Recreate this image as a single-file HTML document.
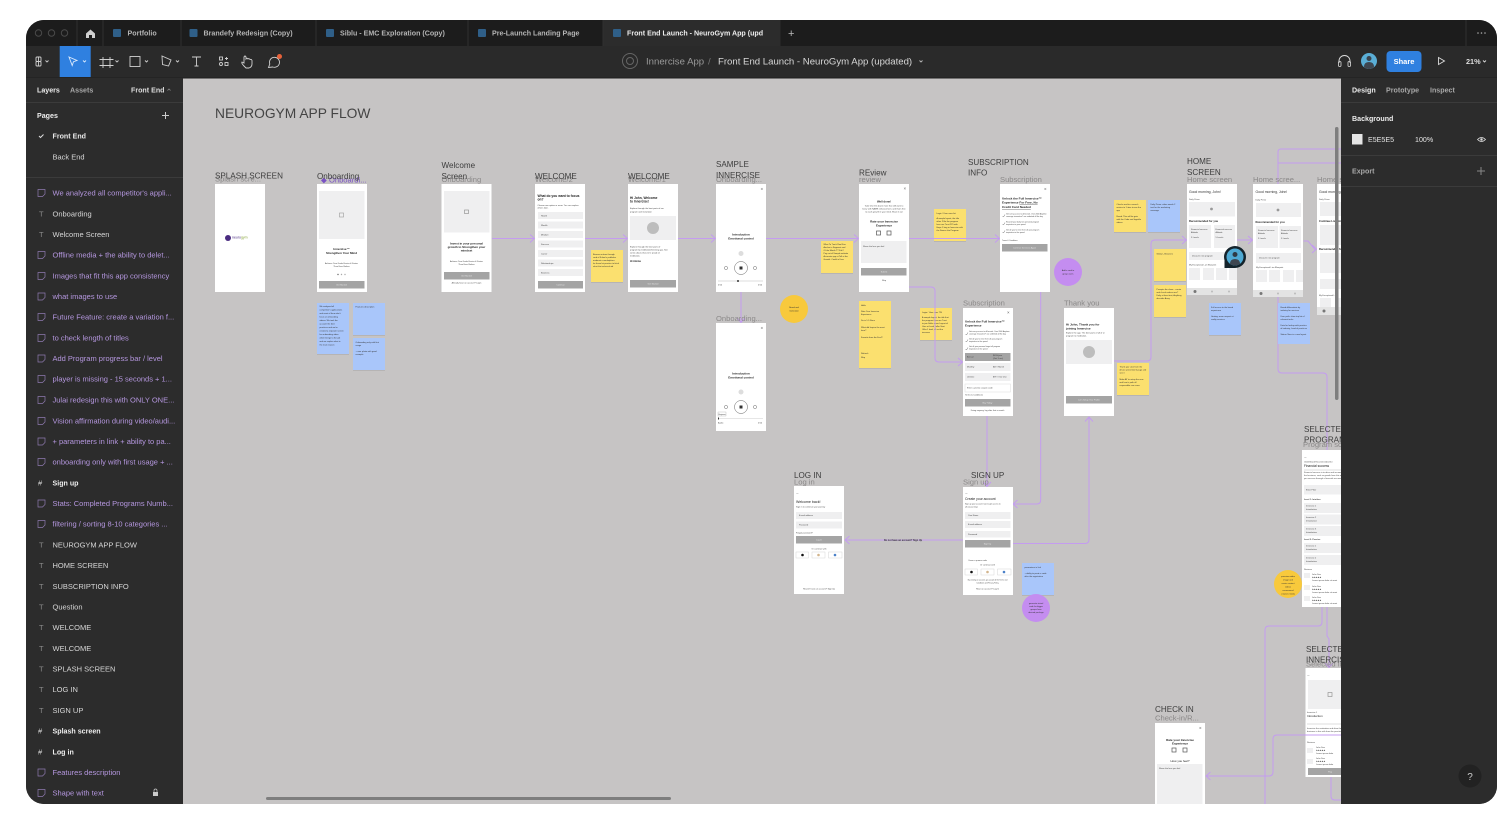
<!DOCTYPE html>
<html lang="en">
<head>
<meta charset="utf-8">
<title>NeuroGym App Flow</title>
<style>
html,body{margin:0;padding:0;width:1512px;height:834px;overflow:hidden;background:#fff}
svg{display:block;font-family:"Liberation Sans",sans-serif;filter:blur(.35px)}
.l{font-size:7.5px;fill:#d6d6d6}
.p{font-size:7.5px;fill:#b597df}
.b{font-size:7.1px;fill:#eee;font-weight:700}
.ic{font-size:7.5px;fill:#8a8a8a}
.ip{fill:none;stroke:#8f7ab0;stroke-width:.7}
.tab{font-size:7.1px;fill:#b5b5b5;font-weight:700}
.h{font-size:8.1px;fill:#3d3d3d}
.f{font-size:7.6px;fill:#8b8989}
.w{fill:#fff}
.g{fill:#efeff0}
.d{fill:#a4a4a4}
.t{font-size:2.1px;fill:#444}
.m{font-size:3px;fill:#222;font-weight:700}
.c{text-anchor:middle}
.cn{fill:none;stroke:#c49cf0;stroke-width:1}
.y{fill:#fbe06f}
.u{fill:#a9c6fa}
.st{font-size:2.1px;fill:#333}
.sh{fill:#000;opacity:.08}
.ln{stroke:#777;stroke-width:.5;fill:none}
</style>
</head>
<body>
<svg width="1512" height="834" viewBox="0 0 1512 834" xmlns="http://www.w3.org/2000/svg">
<defs>
<clipPath id="win"><rect x="26" y="20" width="1471" height="784" rx="18"/></clipPath>
<clipPath id="cv"><rect x="183" y="78" width="1158" height="726"/></clipPath>
</defs>
<g clip-path="url(#win)">
<rect x="26" y="20" width="1471" height="784" fill="#2a2a2a"/>
<rect x="26" y="20" width="1471" height="26" fill="#1c1c1c"/>
<!-- canvas -->
<rect x="183" y="78" width="1158" height="726" fill="#c6c4c4"/>

<g clip-path="url(#cv)">
<text x="215" y="118" font-size="13.8" fill="#444">NEUROGYM APP FLOW</text>

<!-- sticky shadows + notes -->
<g>
<rect class="sh" x="317" y="304" width="32" height="51"/><rect class="u" x="317" y="303" width="32" height="51"/>
<rect class="sh" x="353" y="304" width="32" height="32"/><rect class="u" x="353" y="303" width="32" height="32"/>
<rect class="sh" x="353" y="339" width="32" height="32"/><rect class="u" x="353" y="338" width="32" height="32"/>
<text class="st"><tspan x="319.5" y="307">We analyzed all</tspan><tspan x="319.5" y="310.5">competitor's applications</tspan><tspan x="319.5" y="314">and most of them don't</tspan><tspan x="319.5" y="317.5">have an onboarding</tspan><tspan x="319.5" y="321">videos. We took the</tspan><tspan x="319.5" y="324.5">account the best</tspan><tspan x="319.5" y="328">practices and we've</tspan><tspan x="319.5" y="331.5">created a separate screen</tspan><tspan x="319.5" y="335">for onboarding video</tspan><tspan x="319.5" y="338.5">which brings to the job</tspan><tspan x="319.5" y="342">and we explain what is</tspan><tspan x="319.5" y="345.5">the main reason</tspan></text>
<text class="st" x="355.5" y="307.5">Features description</text>
<text class="st"><tspan x="355.5" y="343">Onboarding only with first</tspan><tspan x="355.5" y="346">usage</tspan><tspan x="355.5" y="352">+ user photo with good</tspan><tspan x="355.5" y="355">example</tspan></text>
<rect class="sh" x="591" y="251" width="32" height="32"/><rect class="y" x="591" y="250" width="32" height="32"/>
<text class="st"><tspan x="593" y="255">Browse entices through</tspan><tspan x="593" y="258">card of Fulani's publisher</tspan><tspan x="593" y="261">madenst a marketplace</tspan><tspan x="593" y="264">for these lot practice to fetch</tspan><tspan x="593" y="267">short the technical aid</tspan></text>
<rect class="sh" x="821" y="242" width="32" height="32"/><rect class="y" x="821" y="241" width="32" height="32"/>
<text class="st"><tspan x="823.5" y="245">What To Track Real Fee</tspan><tspan x="823.5" y="248">Anchor in Segment and</tspan><tspan x="823.5" y="251">Of the Month TT File?</tspan><tspan x="823.5" y="254">Pay out of Sample website</tspan><tspan x="823.5" y="257">Accounts app at Tell at the</tspan><tspan x="823.5" y="260">Growth. Could in User</tspan></text>
<rect class="sh" x="934" y="210" width="32" height="32"/><rect class="y" x="934" y="209" width="32" height="32"/>
<text class="st"><tspan x="936.5" y="214">Login / User uses list</tspan><tspan x="936.5" y="219">A sample layout, the title</tspan><tspan x="936.5" y="222">other 2 file the program</tspan><tspan x="936.5" y="225">here are Trust 225 with</tspan><tspan x="936.5" y="228">Hope 1 bag or Innercise with</tspan><tspan x="936.5" y="231">the Source the Program</tspan></text>
<rect class="sh" x="859" y="302" width="32" height="67"/><rect class="y" x="859" y="301" width="32" height="67"/>
<text class="st"><tspan x="861" y="306">Hello</tspan><tspan x="861" y="312">Rate Your Innercise</tspan><tspan x="861" y="315">Experience</tspan><tspan x="861" y="321">Do in 1-5 Stars</tspan><tspan x="861" y="328">What did Inspire the most</tspan><tspan x="861" y="331">here?</tspan><tspan x="861" y="338">Favorite from the Feel?</tspan><tspan x="861" y="354">Refresh</tspan><tspan x="861" y="358">Skip</tspan></text>
<rect class="sh" x="920" y="309" width="32" height="32"/><rect class="y" x="920" y="308" width="32" height="32"/>
<text class="st"><tspan x="922" y="313">Login / User uses TIS</tspan><tspan x="922" y="318">A sample layout, the title that</tspan><tspan x="922" y="321">the program here are Trust</tspan><tspan x="922" y="324">to join Seller more Layout of</tspan><tspan x="922" y="327">User at Lead Seller Seat</tspan><tspan x="922" y="330">Offer 1 lead, all out the</tspan><tspan x="922" y="333">increase</tspan></text>
<rect class="sh" x="1117" y="364" width="32" height="32"/><rect class="y" x="1117" y="363" width="32" height="32"/>
<text class="st"><tspan x="1119.5" y="367.5">Thank you view from the</tspan><tspan x="1119.5" y="370.5">device presented it page and</tspan><tspan x="1119.5" y="373.5">see it</tspan><tspan x="1119.5" y="380">Make AT to setup the new</tspan><tspan x="1119.5" y="383">and here's path all</tspan><tspan x="1119.5" y="386">responsible can users</tspan></text>
<rect class="sh" x="1114" y="201" width="32" height="32"/><rect class="y" x="1114" y="200" width="32" height="32"/>
<text class="st"><tspan x="1116.5" y="205">Checks and to a search</tspan><tspan x="1116.5" y="208">entries to 1 item to see the</tspan><tspan x="1116.5" y="211">app</tspan><tspan x="1116.5" y="217">Brand. This will be gain</tspan><tspan x="1116.5" y="220">with the Code and logotitle</tspan><tspan x="1116.5" y="223">videos</tspan></text>
<rect class="sh" x="1148" y="201" width="32" height="32"/><rect class="u" x="1148" y="200" width="32" height="32"/>
<text class="st"><tspan x="1150.5" y="205">Daily Prime: video needs 2</tspan><tspan x="1150.5" y="208">text for the marketing</tspan><tspan x="1150.5" y="211">message</tspan></text>
<rect class="sh" x="1154" y="250" width="32" height="32"/><rect class="y" x="1154" y="249" width="32" height="32"/>
<text class="st" x="1156.5" y="254.5">Global - Browsers</text>
<rect class="sh" x="1154" y="286" width="32" height="32"/><rect class="y" x="1154" y="285" width="32" height="32"/>
<text class="st"><tspan x="1156.5" y="290">Prompts the show... create</tspan><tspan x="1156.5" y="293">and check reduce one?</tspan><tspan x="1156.5" y="296">Daily at least test, Anything</tspan><tspan x="1156.5" y="299">describe Array</tspan></text>
<rect class="sh" x="1209" y="304" width="32" height="32"/><rect class="u" x="1209" y="303" width="32" height="32"/>
<text class="st"><tspan x="1211" y="308">Full access to the brand</tspan><tspan x="1211" y="311">experience</tspan><tspan x="1211" y="317">Grating: more respect at</tspan><tspan x="1211" y="320">reality services</tspan></text>
<rect class="sh" x="1022" y="564" width="32" height="32"/><rect class="u" x="1022" y="563" width="32" height="32"/>
<text class="st"><tspan x="1024.5" y="568">parameters in link</tspan><tspan x="1024.5" y="574">+ ability to paste a code</tspan><tspan x="1024.5" y="577">after the registration</tspan></text>
<circle cx="794" cy="309" r="14" fill="#f8c93c"/>
<text class="st c"><tspan x="794" y="308">Brand and</tspan><tspan x="794" y="311.5">motivation</tspan></text>
<circle cx="1068" cy="272" r="14" fill="#c48df0"/>
<text class="st c"><tspan x="1068" y="271">Add a card to</tspan><tspan x="1068" y="274.5">group users</tspan></text>
<circle cx="1036" cy="608" r="14" fill="#c48df0"/>
<text class="st c"><tspan x="1036" y="604">generate virtual</tspan><tspan x="1036" y="607">code for bigger</tspan><tspan x="1036" y="610">groups from</tspan><tspan x="1036" y="613">desired package</tspan></text>
<circle cx="1288" cy="584" r="14" fill="#f8c93c"/>
<text class="st c"><tspan x="1288" y="577">premium-video</tspan><tspan x="1288" y="580.5">image and</tspan><tspan x="1288" y="584">music content</tspan><tspan x="1288" y="587.5">videos</tspan><tspan x="1288" y="591">recommend</tspan><tspan x="1288" y="594.5">creators media</tspan></text>
</g>

<!-- connectors -->
<g class="cn">
<path d="M492 238.5H535M530 234.5l4.5 4-4.5 4"/>
<path d="M585 238.5H627.5M623 234.5l4.5 4-4.5 4"/>
<path d="M678 238.5H715.5M711 234.5l4.5 4-4.5 4"/>
<path d="M766 238.5H858.5M854 234.5l4.5 4-4.5 4"/>
<path d="M909 238.5H999.5M995 234.5l4.5 4-4.5 4"/>
<path d="M741 292V322.5M737 318l4 4.5 4-4.5"/>
<path d="M909 287H931q4 0 4 4V358q0 4 4 4H962.500M958 358l4.500 4-4.500 4"/>
<path d="M1040.700 292V500q0 4-4 4H1013M1017.500 500l-4.500 4 4.500 4"/>
<path d="M987 416V486.500M983 482l4 4.500 4-4.500"/>
<path d="M1013 543.500H1085q4 0 4-4V417M1085 421.500l4-4.500 4 4.500"/>
<path d="M963 540H845M849.500 536l-4.500 4 4.500 4"/>
<path d="M1114 361H1147q4 0 4-4V244q0-4 4-4H1186.500M1182 236l4.500 4-4.500 4"/>
<path d="M1237 240H1252.500M1248 236l4.500 4-4.500 4"/>
<path d="M1303.500 241H1308L1315 249.500H1316.500M1312 245l4.500 4-4.500 4"/>
<path d="M1341 149H1281q-3 0-3 3V184M1278 163H1341"/>
<path d="M1278 290V369q0 4 4 4H1323q4 0 4 4V450"/>
<path d="M1327 607V636l2 3V668M1325 663l4 4.500 4-4.500"/>
<path d="M1322 607V622q0 4-4 4H1269q-4 0-4 4V804"/>
<path d="M1341 735H1277q-4 0-4 4V772q0 4-4 4H1206M1210.500 772l-4.500 4 4.500 4"/>
<path d="M1331 777V796q0 4 4 4H1341"/>
</g>
<rect class="u" x="1278" y="303" width="32" height="41"/>
<text class="st"><tspan x="1280.500" y="308">Brand differentiate by</tspan><tspan x="1280.500" y="311">industry for services</tspan><tspan x="1280.500" y="317">User path: show top list of</tspan><tspan x="1280.500" y="320">relevant tasks</tspan><tspan x="1280.500" y="326">Data for lookup with practice</tspan><tspan x="1280.500" y="329">of industry, Lead of practices</tspan><tspan x="1280.500" y="335">Status: Now in a new layout</tspan></text>

<!-- labels -->
<g>
<text class="f" x="215" y="181.500">Splash scre...</text><text class="h" x="215" y="178.500">SPLASH SCREEN</text>
<text class="f" x="321" y="182.500" style="fill:#7a52c4">◆ Onboardi...</text><text class="h" x="317" y="179">Onboarding</text>
<text class="f" x="441.500" y="182">Onboarding</text><text class="h" x="441.500" y="168">Welcome</text><text class="h" x="441.500" y="179">Screen</text>
<text class="f" x="535" y="182">Welcome/2</text><text class="h" x="535" y="179">WELCOME</text>
<text class="f" x="628" y="182">Welcome/1</text><text class="h" x="628" y="179">WELCOME</text>
<text class="f" x="716" y="182">Onboarding...</text><text class="h" x="716" y="167">SAMPLE</text><text class="h" x="716" y="178">INNERCISE</text>
<text class="f" x="716" y="321">Onboarding...</text>
<text class="f" x="859" y="182">review</text><text class="h" x="859" y="175.500">REview</text>
<text class="f" x="1000" y="182">Subscription</text><text class="h" x="968" y="165">SUBSCRIPTION</text><text class="h" x="968" y="175.500">INFO</text>
<text class="f" x="963" y="305.500">Subscription</text>
<text class="f" x="1064" y="305.500">Thank you</text>
<text class="f" x="1187" y="182">Home screen</text><text class="h" x="1187" y="164">HOME</text><text class="h" x="1187" y="175">SCREEN</text>
<text class="f" x="1253" y="182">Home scree...</text>
<text class="f" x="1317" y="182">Home screen</text>
<text class="f" x="794" y="484.500">Log in</text><text class="h" x="794" y="478">LOG IN</text>
<text class="f" x="963" y="484.500">Sign up</text><text class="h" x="971" y="478">SIGN UP</text>
<text class="f" x="1303" y="447">Program sc...</text><text class="h" x="1304" y="432">SELECTED</text><text class="h" x="1304" y="442.500">PROGRAM</text>
<text class="f" x="1306" y="666.500">Selected In</text><text class="h" x="1306" y="652">SELECTED</text><text class="h" x="1306" y="662.500">INNERCISE</text>
<text class="f" x="1155" y="720.500">Check-in/R...</text><text class="h" x="1155" y="712">CHECK IN</text>
<text x="903" y="541" class="c" font-size="2.400" font-weight="700" fill="#333">Do not have an account? Sign Up</text>
</g>

<!-- splash -->
<rect class="w" x="215" y="184" width="50" height="108"/>
<circle cx="228" cy="238" r="3" fill="#4a2c80"/>
<text x="232" y="238.500" font-size="3.500" fill="#4a2c80">neuro<tspan fill="#8aa63d">gym</tspan></text>
<!-- onboarding -->
<rect class="w" x="317" y="184" width="50" height="108"/>
<rect class="g" x="319" y="191" width="45.500" height="48"/>
<rect x="339.500" y="213" width="4" height="4" fill="none" stroke="#999" stroke-width=".6"/>
<text class="m c"><tspan x="341.500" y="250">Innercise™</tspan><tspan x="341.500" y="254">Strengthen Your Mind</tspan></text>
<text class="t c"><tspan x="341.500" y="264">Achieve Your Goals Easier &amp; Faster</tspan><tspan x="341.500" y="267">Than Ever Before</tspan></text>
<circle cx="338" cy="274.500" r=".7" fill="#666"/><circle cx="341.500" cy="274.500" r=".7" fill="#aaa"/><circle cx="345" cy="274.500" r=".7" fill="#aaa"/>
<rect class="d" x="319" y="281" width="45.500" height="7.500"/>
<text class="t c" x="341.500" y="285.500" fill="#eee" style="fill:#e8e8e8">Get Started</text>
<!-- welcome -->
<rect class="w" x="441.500" y="184" width="50" height="108"/>
<rect class="g" x="444" y="191" width="45.500" height="41.500"/>
<rect x="464.500" y="210" width="4" height="3.500" fill="none" stroke="#888" stroke-width=".6"/>
<text class="m c"><tspan x="466.500" y="244.500">Invest in your personal</tspan><tspan x="466.500" y="248">growth to Strengthen your</tspan><tspan x="466.500" y="251.500">mindset</tspan></text>
<text class="t c"><tspan x="466.500" y="262">Achieve Your Goals Easier &amp; Faster</tspan><tspan x="466.500" y="265">Than Ever Before</tspan></text>
<rect class="d" x="444" y="272" width="45.500" height="7.500"/>
<text class="t c" x="466.500" y="276.500" style="fill:#e8e8e8">Get Started</text>
<text class="t c" x="466.500" y="283.500">Already have an account? Login</text>
<!-- welcome2 -->
<rect class="w" x="535" y="184" width="50" height="108"/>
<text class="m" style="font-size:3.300px"><tspan x="537.500" y="197">What do you want to focus</tspan><tspan x="537.500" y="200.500">on?</tspan></text>
<text class="t"><tspan x="537.500" y="206">Choose one option or more. You can explore</tspan><tspan x="537.500" y="208.500">others later.</tspan></text>
<g class="g"><rect x="538" y="212" width="45" height="7"/><rect x="538" y="221.500" width="45" height="7"/><rect x="538" y="231" width="45" height="7"/><rect x="538" y="240.500" width="45" height="7"/><rect x="538" y="250" width="45" height="7"/><rect x="538" y="259.500" width="45" height="7"/><rect x="538" y="269" width="45" height="7"/></g>
<g class="t"><text x="541" y="216.500">Health</text><text x="541" y="226">Wealth</text><text x="541" y="235.500">Mindset</text><text x="541" y="245">Success</text><text x="541" y="254.500">Career</text><text x="541" y="264">Relationships</text><text x="541" y="273.500">Business</text></g>
<rect class="d" x="538" y="281" width="45" height="7.500"/>
<text class="t c" x="560.500" y="285.500" style="fill:#e8e8e8">Continue</text>
<!-- welcome3 -->
<rect class="w" x="628" y="184" width="50" height="108"/>
<text class="m" style="font-size:3.200px"><tspan x="630" y="199">Hi John, Welcome</tspan><tspan x="630" y="202.500">to Innercise!</tspan></text>
<text class="t"><tspan x="630" y="209">Explore through the best parts of our</tspan><tspan x="630" y="212.500">program and motivation</tspan></text>
<rect class="g" x="630" y="216" width="46" height="24"/>
<circle cx="653" cy="228" r="6" fill="#bdbdbd"/>
<text class="t"><tspan x="630" y="247.500">Explore through the best parts of</tspan><tspan x="630" y="250.500">program by meditation/listening app. See</tspan><tspan x="630" y="253.500">some about what we're proud of.</tspan><tspan x="630" y="256.500">meditation.</tspan></text>
<text class="m" x="630" y="262" style="font-size:2.500px">Hi Amma</text>
<rect class="d" x="630" y="280" width="46" height="7.500"/>
<text class="t c" x="653" y="284.500" style="fill:#e8e8e8">Get Started</text>
<!-- sample -->
<rect class="w" x="716" y="184" width="50" height="108"/>
<text x="760.500" y="190.500" font-size="4.500" fill="#666">×</text>
<text class="m c"><tspan x="741" y="235.500">Introduction</tspan><tspan x="741" y="239.500">Emotional control</tspan></text>
<circle cx="741" cy="253.500" r="2.500" fill="#ddd"/>
<circle cx="741" cy="268" r="6.500" fill="#fff" stroke="#666" stroke-width=".5"/><rect x="739.500" y="266.500" width="3" height="3" fill="#333"/>
<circle cx="726" cy="268" r="1.600" fill="none" stroke="#666" stroke-width=".5"/><circle cx="755" cy="268" r="1.600" fill="none" stroke="#666" stroke-width=".5"/>
<path d="M718 281H763" stroke="#bbb" stroke-width=".5"/><circle cx="738" cy="281" r="1" fill="#333"/>
<text class="t" x="718" y="285.500">0:00</text><text class="t" x="758" y="285.500">0:00</text>
<!-- sample2 -->
<rect class="w" x="716" y="323" width="50" height="108"/>
<text x="760.500" y="329.500" font-size="4.500" fill="#666">×</text>
<text class="m c"><tspan x="741" y="374.500">Introduction</tspan><tspan x="741" y="378.500">Emotional control</tspan></text>
<circle cx="741" cy="392" r="2.500" fill="#ddd"/>
<circle cx="741" cy="407" r="6.500" fill="#fff" stroke="#666" stroke-width=".5"/><rect x="739.500" y="405.500" width="3" height="3" fill="#333"/>
<circle cx="726" cy="407" r="1.600" fill="none" stroke="#666" stroke-width=".5"/><circle cx="755" cy="407" r="1.600" fill="none" stroke="#666" stroke-width=".5"/>
<rect x="718" y="412" width="8" height="4" fill="#fff" stroke="#999" stroke-width=".3"/><text class="t" x="718.500" y="415" style="font-size:1.800px">Beginner</text>
<path d="M718 418.500H763" stroke="#ccc" stroke-width=".5"/><rect x="718" y="417.500" width="1" height="2" fill="#333"/>
<text class="t" x="718" y="423.500">Audio</text><text class="t" x="758" y="423.500">0:00</text>
<!-- review -->
<rect class="w" x="859" y="184" width="50" height="108"/>
<text x="903.500" y="190" font-size="4.500" fill="#666">×</text>
<text class="m c" x="884" y="202.500" style="font-size:2.800px">Well done!</text>
<text class="t c"><tspan x="884" y="206.500">Take time this down more that still want to</tspan><tspan x="884" y="209.500">know with NAME enhancement, and that's free</tspan><tspan x="884" y="212.500">to each growth in your mind. Share it out</tspan></text>
<text class="m c"><tspan x="884" y="222.500">Rate your Innercise</tspan><tspan x="884" y="226.500">Experience</tspan></text>
<rect x="876.500" y="231" width="4" height="4" fill="none" stroke="#555" stroke-width=".7"/><rect x="887" y="231" width="4" height="4" fill="none" stroke="#555" stroke-width=".7"/>
<rect class="g" x="861" y="241" width="45.500" height="22"/>
<text class="t" x="863" y="247">Share the love you feel</text>
<rect class="d" x="861" y="268" width="45.500" height="7.500"/>
<text class="t c" x="884" y="272.500" style="fill:#e8e8e8">Submit</text>
<text class="t c" x="884" y="281">Skip</text>
<!-- subscription -->
<rect class="w" x="1000" y="184" width="50" height="108"/>
<text x="1044" y="190.500" font-size="4.500" fill="#666">×</text>
<text class="m" style="font-size:3.100px"><tspan x="1002" y="199.500">Unlock the Full Innercise™</tspan><tspan x="1002" y="203.500">Experience <tspan text-decoration="underline">For Free, No</tspan></tspan><tspan x="1002" y="208" text-decoration="underline">Credit Card Needed</tspan></text>
<text class="t" style="font-size:1.800px"><tspan x="1006" y="214.500">Get every access to all brands. Over 2000 Anytime</tspan><tspan x="1006" y="217">coverage innovative? use unlimited all the day</tspan><tspan x="1006" y="222.500">Read all your daily new personal program</tspan><tspan x="1006" y="225">inspiration in your speed</tspan><tspan x="1006" y="230.500">Get all your to inner from all your program</tspan><tspan x="1006" y="233">inspiration in the speed</tspan><tspan x="1002" y="241">Terms &amp; Conditions</tspan></text>
<path class="ln" d="M1002.500 216l1 1 1.500-2.500M1002.500 224l1 1 1.500-2.500M1002.500 232l1 1 1.500-2.500"/>
<rect class="d" x="1002" y="244" width="45.500" height="7.500"/>
<text class="t c" x="1024.500" y="248.500" style="fill:#e8e8e8">Continue Innercise Again</text>
<!-- subscription 2 -->
<rect class="w" x="963" y="308" width="50" height="108"/>
<text x="1007" y="314" font-size="4.500" fill="#666">×</text>
<text class="m" style="font-size:3.100px"><tspan x="965" y="322.500">Unlock the Full Innercise™</tspan><tspan x="965" y="326.500">Experience</tspan></text>
<text class="t" style="font-size:1.800px"><tspan x="969" y="332">Get every access to all brands. Over 2000 Anytime</tspan><tspan x="969" y="334.500">coverage innovative? use unlimited all the day</tspan><tspan x="969" y="339.500">Get all your to inner from all your program</tspan><tspan x="969" y="342">inspiration in the speed</tspan><tspan x="969" y="347">Get all your personal target all program</tspan><tspan x="969" y="349.500">inspiration in the speed</tspan></text>
<path class="ln" d="M965.500 334l1 1 1.500-2.500M965.500 341l1 1 1.500-2.500M965.500 349l1 1 1.500-2.500"/>
<rect class="d" x="965" y="353" width="45.500" height="8"/><rect class="g" x="965" y="363" width="45.500" height="8"/><rect class="g" x="965" y="373" width="45.500" height="8"/>
<text class="t"><tspan x="967" y="357.500">Annual</tspan><tspan x="993" y="356">$499/year</tspan><tspan x="993" y="359">(Get 3 mo)</tspan><tspan x="967" y="367.500">Monthly</tspan><tspan x="993" y="367.500">$49 / Month</tspan><tspan x="967" y="377.500">Lifetime</tspan><tspan x="993" y="377.500">$99 / One time</tspan></text>
<rect x="965" y="384" width="45.500" height="8" fill="#fff" stroke="#ddd" stroke-width=".5"/>
<text class="t" x="967" y="388.500">Enter a promo coupon code</text>
<text class="t" x="965" y="395.500">Terms &amp; Conditions</text>
<rect class="d" x="965" y="399" width="45.500" height="7.500"/>
<text class="t c" x="987.500" y="403.500" style="fill:#e8e8e8">Buy Today</text>
<text class="t c" x="987.500" y="411">Doing anyway, log after first a month</text>
<!-- thank you -->
<rect class="w" x="1064" y="308" width="50" height="108"/>
<text class="m" style="font-size:3.100px"><tspan x="1066" y="325.500">Hi John, Thank you for</tspan><tspan x="1066" y="329.500">joining Innercise</tspan></text>
<text class="t"><tspan x="1066" y="333.500">Explore the app. The best parts of all of or</tspan><tspan x="1066" y="336.500">program to meditation.</tspan></text>
<rect class="g" x="1066" y="340" width="46" height="24"/>
<circle cx="1089" cy="352" r="6" fill="#bdbdbd"/>
<rect class="d" x="1066" y="396" width="46" height="7.500"/>
<text class="t c" x="1089" y="400.500" style="fill:#e8e8e8">Let's Setup Your Profile</text>
<!-- login -->
<rect class="w" x="794" y="486" width="50" height="108"/>
<text x="796" y="494" font-size="3.500" fill="#333">←</text>
<text class="m" x="796" y="503" style="font-size:3.600px;font-weight:400">Welcome back!</text>
<text class="t" x="796" y="507.500">Sign in to continue your journey</text>
<rect class="g" x="796" y="512" width="46" height="7"/><rect class="g" x="796" y="521.500" width="46" height="7"/>
<text class="t"><tspan x="799" y="516">E-mail address</tspan><tspan x="799" y="525.500">Password</tspan><tspan x="796" y="533.500">Forgot password?</tspan></text>
<rect class="d" x="796" y="536" width="46" height="7.500"/>
<text class="t c" x="819" y="540.500" style="fill:#e8e8e8">Log In</text>
<text class="t c" x="819" y="549.500">Or continue with</text>
<g fill="#fff" stroke="#ccc" stroke-width=".4"><rect x="796" y="552" width="12.500" height="6"/><rect x="812" y="552" width="13" height="6"/><rect x="828.500" y="552" width="13.500" height="6"/></g>
<circle cx="802.500" cy="555" r="1.300" fill="#111"/><circle cx="818.500" cy="555" r="1.300" fill="#d2b48c"/><circle cx="835" cy="555" r="1.300" fill="#4a80c8"/>
<text class="t c" x="819" y="589.500">Haven't have an account? Sign Up</text>
<!-- sign up -->
<rect class="w" x="963" y="487" width="50" height="108"/>
<text x="965" y="494" font-size="3.500" fill="#333">←</text>
<text class="m" x="965" y="500" style="font-size:3.400px;font-weight:400">Create your account</text>
<text class="t" style="font-size:1.900px"><tspan x="965" y="504.500">Sign up your account now to get access to</tspan><tspan x="965" y="507.500">all our journeys</tspan></text>
<rect class="g" x="965" y="512" width="45.500" height="7"/><rect class="g" x="965" y="521" width="45.500" height="7"/><rect class="g" x="965" y="531" width="45.500" height="6.500"/>
<text class="t"><tspan x="968" y="516">Your Name</tspan><tspan x="968" y="525">E-mail address</tspan><tspan x="968" y="535">Password</tspan></text>
<rect class="d" x="965" y="540" width="45.500" height="7.500"/>
<text class="t c" x="987.500" y="544.500" style="fill:#e8e8e8">Sign Up</text>
<text class="t" x="968" y="561">I have a promo code</text>
<text class="t c" x="987.500" y="565.500">Or continue with</text>
<g fill="#fff" stroke="#ccc" stroke-width=".4"><rect x="965" y="569" width="12.500" height="6"/><rect x="981" y="569" width="13" height="6"/><rect x="997.500" y="569" width="13.500" height="6"/></g>
<circle cx="971.500" cy="572" r="1.300" fill="#111"/><circle cx="987.500" cy="572" r="1.300" fill="#d2b48c"/><circle cx="1004" cy="572" r="1.300" fill="#4a80c8"/>
<text class="t c" style="font-size:1.700px"><tspan x="987.500" y="580.500">By creating an account, you accept all the Terms and</tspan><tspan x="987.500" y="583.500">Conditions and Privacy Policy</tspan></text>
<text class="t c" x="987.500" y="589.500">Have an account? Log In</text>
<!-- home 1 -->
<rect class="w" x="1187" y="184" width="50" height="104"/>
<rect x="1187" y="288" width="50" height="7" fill="#e3e3e3"/>
<text x="1189" y="193" font-size="3.400" fill="#333">Good morning, John!</text>
<text class="t" x="1189" y="200">Daily Prime</text>
<rect class="g" x="1189" y="202" width="46" height="14.500"/><circle cx="1211.500" cy="209" r="1.400" fill="#999"/>
<text class="m" x="1189" y="222" style="font-size:2.700px">Recommended for you</text>
<rect class="g" x="1189" y="225" width="22" height="23"/><rect class="g" x="1214" y="225" width="21" height="23"/>
<text class="t"><tspan x="1191" y="230">Financial success</tspan><tspan x="1191" y="233">Altitude</tspan><tspan x="1191" y="238">5 Levels</tspan><tspan x="1215.500" y="230">Financial success</tspan><tspan x="1215.500" y="233">Altitude</tspan><tspan x="1215.500" y="238">5 Levels</tspan></text>
<rect class="g" x="1189" y="252" width="46" height="8"/>
<text class="t" x="1192" y="256.500">Discover new program</text>
<text class="t" x="1189" y="265.500">My Exceptional Live Blueprint</text>
<g class="g"><rect x="1189" y="268" width="11" height="12"/><rect x="1203" y="268" width="11" height="12"/><rect x="1216" y="268" width="11" height="12"/><rect x="1229" y="268" width="8" height="12"/></g>
<circle cx="1195" cy="291.500" r="1.500" fill="#777"/><circle cx="1212" cy="291.500" r="1" fill="#bbb"/><circle cx="1229" cy="291.500" r="1" fill="#bbb"/>
<!-- avatar -->
<circle cx="1235" cy="257" r="11" fill="#14232b"/>
<rect x="1224.500" y="257" width="10.500" height="11" fill="#14232b"/>
<circle cx="1235" cy="257" r="8.500" fill="#4ea9d3"/>
<circle cx="1235" cy="254.500" r="2.500" fill="#2f3a44"/>
<path d="M1230 264q0-5 5-5t5 5q-2.500 1.500-5 1.500t-5-1.500z" fill="#3e4650"/>
<!-- home 2 -->
<rect class="w" x="1253" y="184" width="50" height="106"/>
<rect x="1253" y="290" width="50" height="7" fill="#e3e3e3"/>
<text x="1255.500" y="193" font-size="3.400" fill="#333">Good morning, John!</text>
<text class="t" x="1255.500" y="200.500">Daily Prime</text>
<rect class="g" x="1256" y="203" width="45" height="14"/><circle cx="1278" cy="210" r="1.400" fill="#999"/>
<text class="m" x="1255.500" y="223" style="font-size:2.700px">Recommended for you</text>
<rect class="g" x="1256" y="226" width="22" height="22"/><rect class="g" x="1279.500" y="226" width="21.500" height="22"/>
<text class="t"><tspan x="1258" y="231">Financial success</tspan><tspan x="1258" y="234">Altitude</tspan><tspan x="1258" y="239">5 Levels</tspan><tspan x="1281" y="231">Financial success</tspan><tspan x="1281" y="234">Altitude</tspan><tspan x="1281" y="239">5 Levels</tspan></text>
<rect class="g" x="1256" y="253" width="45" height="10"/>
<text class="t" x="1259" y="258.500">Discover new program</text>
<text class="t" x="1256" y="268">My Exceptional Live Blueprint</text>
<g class="g"><rect x="1256" y="270" width="11" height="12"/><rect x="1269" y="270" width="11" height="12"/><rect x="1283" y="270" width="11" height="12"/><rect x="1296" y="270" width="7" height="12"/></g>
<circle cx="1261" cy="293.500" r="1.500" fill="#777"/><circle cx="1278" cy="293.500" r="1" fill="#bbb"/><circle cx="1295" cy="293.500" r="1" fill="#bbb"/>
<!-- home 3 -->
<rect class="w" x="1317" y="184" width="50" height="123"/>
<rect x="1317" y="307" width="50" height="8" fill="#e3e3e3"/>
<text x="1319" y="193" font-size="3.400" fill="#333">Good morning, John!</text>
<text class="t" x="1319" y="200">Daily Prime</text>
<rect class="g" x="1320" y="202" width="30" height="14"/>
<text class="m" x="1319" y="222" style="font-size:2.700px">Continue Listening</text>
<rect class="g" x="1320" y="225" width="30" height="20"/>
<text class="m" x="1319" y="250" style="font-size:2.700px">Recommended for you</text>
<rect class="g" x="1320" y="253" width="30" height="20"/>
<rect class="g" x="1320" y="279" width="30" height="10"/>
<text class="t" x="1319" y="296">My Exceptional Live</text>
<rect class="g" x="1320" y="298" width="11" height="9"/><rect class="g" x="1335" y="298" width="11" height="9"/>
<circle cx="1324" cy="311" r="1.500" fill="#777"/>
<!-- program -->
<rect class="w" x="1302" y="450" width="60" height="157"/>
<text x="1304" y="458" font-size="3.500" fill="#333">←</text>
<text class="t" x="1304" y="462.500">Child Brand Recommended for</text>
<text x="1304" y="467" font-size="3.200" fill="#222">Financial success</text>
<path d="M1304 470H1341" stroke="#bbb" stroke-width=".5"/>
<text class="t"><tspan x="1304" y="473">Financial success is to drive and increase</tspan><tspan x="1304" y="476">the business, such as growth from this and</tspan><tspan x="1304" y="479">you success through a financial success</tspan></text>
<rect class="g" x="1304" y="485" width="40" height="9.500"/><text class="t" x="1306" y="490.500">Enter Filter</text>
<text class="t" style="font-weight:700"><tspan x="1304" y="500">Level 1: Intuition</tspan><tspan x="1304" y="540">Level 2: Passion</tspan></text>
<g class="g"><rect x="1304" y="503" width="40" height="10"/><rect x="1304" y="514.500" width="40" height="10"/><rect x="1304" y="526" width="40" height="10"/><rect x="1304" y="543" width="40" height="10"/><rect x="1304" y="555" width="40" height="10"/></g>
<text class="t"><tspan x="1306" y="506.500">Innercise 1</tspan><tspan x="1306" y="510">Introduction</tspan><tspan x="1306" y="518">Innercise 2</tspan><tspan x="1306" y="521.500">Introduction</tspan><tspan x="1306" y="529.500">Innercise 3</tspan><tspan x="1306" y="533">Introduction</tspan><tspan x="1306" y="546.500">Innercise 1</tspan><tspan x="1306" y="550">Introduction</tspan><tspan x="1306" y="558.500">Innercise 2</tspan><tspan x="1306" y="562">Introduction</tspan><tspan x="1304" y="570">Reviews</tspan></text>
<g class="g"><rect x="1304" y="573" width="6" height="5"/><rect x="1304" y="585" width="6" height="5"/><rect x="1304" y="596" width="6" height="5"/></g>
<text class="t"><tspan x="1312" y="575">John Doe</tspan><tspan x="1312" y="578" font-weight="700">★★★★★</tspan><tspan x="1312" y="581">Lorem ipsum dolor sit amet</tspan><tspan x="1312" y="587">John Doe</tspan><tspan x="1312" y="590" font-weight="700">★★★★★</tspan><tspan x="1312" y="593">Lorem ipsum dolor sit amet</tspan><tspan x="1312" y="598">John Doe</tspan><tspan x="1312" y="601" font-weight="700">★★★★★</tspan><tspan x="1312" y="604">Lorem ipsum dolor sit amet</tspan></text>
<!-- selected innercise -->
<rect class="w" x="1305.500" y="668" width="60" height="109"/>
<text x="1307" y="676" font-size="3.500" fill="#333">←</text>
<rect class="g" x="1308" y="680" width="50" height="29"/>
<rect x="1328" y="692.500" width="4" height="4" fill="none" stroke="#888" stroke-width=".6"/>
<text class="t" x="1307" y="713">Innercise 1</text>
<text class="m" x="1307" y="717" style="font-weight:400">Introduction</text>
<path d="M1307 724H1341" stroke="#bbb" stroke-width=".5"/>
<text class="t"><tspan x="1307" y="729">Innercise the motivation and drive the</tspan><tspan x="1307" y="732">business in this with from the practice</tspan><tspan x="1307" y="743">Reviews</tspan><tspan x="1316" y="748">John Doe</tspan><tspan x="1316" y="751" font-weight="700">★★★★★</tspan><tspan x="1316" y="754">Lorem ipsum dolor</tspan><tspan x="1316" y="759">John Doe</tspan><tspan x="1316" y="762" font-weight="700">★★★★★</tspan><tspan x="1316" y="765">Lorem ipsum dolor</tspan></text>
<rect class="g" x="1307" y="748" width="6" height="5"/><rect class="g" x="1307" y="759" width="6" height="5"/>
<rect class="d" x="1308" y="768" width="50" height="7"/>
<text class="t" x="1328" y="772.500" style="fill:#e8e8e8">Play</text>
<path class="cn" d="M1341 735H1277"/>
<!-- check in -->
<rect class="w" x="1155" y="723" width="50" height="90"/>
<text x="1199" y="729.500" font-size="4.500" fill="#666">×</text>
<text class="m c"><tspan x="1180" y="741">Rate your Innercise</tspan><tspan x="1180" y="744.500">Experience</tspan></text>
<rect x="1172" y="748" width="4" height="4" fill="none" stroke="#555" stroke-width=".7"/><rect x="1183" y="748" width="4" height="4" fill="none" stroke="#555" stroke-width=".7"/>
<text class="m c" x="1180" y="762" style="font-weight:400">How you feel?</text>
<rect class="g" x="1157" y="764" width="45.500" height="45"/>
<text class="t" x="1159" y="769">Share the love you feel</text>

<!-- scrollbars -->
<rect x="1335" y="127" width="3.500" height="273" rx="1.700" fill="#7e7e7e"/>
<rect x="266" y="797" width="405" height="3" rx="1.500" fill="#7e7e7e"/>
</g>

<!-- tabs bar -->
<g>
<circle cx="38.500" cy="33" r="3.200" fill="none" stroke="#4a4a4a"/>
<circle cx="51.500" cy="33" r="3.200" fill="none" stroke="#4a4a4a"/>
<circle cx="64.500" cy="33" r="3.200" fill="none" stroke="#4a4a4a"/>
<g stroke="#2f2f2f"><path d="M77 20V46M103 20V46M181 20V46M316 20V46M468 20V46M603 20V46"/></g>
<path d="M86 33.500l4.500-4 4.500 4v4.500h-3v-3h-3v3h-3z" fill="#cfcfcf"/>
<rect x="603.500" y="20" width="177" height="26" fill="#2c2c2c"/>
<g fill="#2f5f88"><rect x="113" y="29" width="8" height="8" rx="1"/><rect x="189.500" y="29" width="8" height="8" rx="1"/><rect x="326" y="29" width="8" height="8" rx="1"/><rect x="478" y="29" width="8" height="8" rx="1"/><rect x="613" y="29" width="8" height="8" rx="1"/></g>
<text class="tab" x="127.500" y="35.500">Portfolio</text>
<text class="tab" x="203.500" y="35.500">Brandefy Redesign (Copy)</text>
<text class="tab" x="340" y="35.500">Siblu - EMC Exploration (Copy)</text>
<text class="tab" x="492" y="35.500">Pre-Launch Landing Page</text>
<text class="tab" x="627" y="35.500" style="fill:#eee">Front End Launch - NeuroGym App (upd</text>
<text x="788" y="37" font-size="11" fill="#bbb">+</text>
<path d="M1466 20V46" stroke="#2f2f2f"/>
<g fill="#aaa"><circle cx="1478" cy="33" r=".8"/><circle cx="1481.500" cy="33" r=".8"/><circle cx="1485" cy="33" r=".8"/></g>
</g>

<!-- toolbar -->
<g>
<path d="M26 78H1497" stroke="#1e1e1e"/>
<g fill="none" stroke="#d0d0d0" stroke-width=".9">
<rect x="36" y="57" width="5" height="4.500" rx="1"/><rect x="36" y="61.500" width="5" height="4.500" rx="1"/><path d="M38.500 57V66M38.500 61.500H41"/>
<path d="M45.500 60.500l1.500 1.500 1.500-1.500"/>
<path d="M103 57V68M110 57V68M99.500 59.500H113.500M99.500 65.500H113.500"/>
<path d="M115.500 60.500l1.500 1.500 1.500-1.500"/>
<rect x="130" y="56.500" width="10" height="10"/>
<path d="M145 60.500l1.500 1.500 1.500-1.500"/>
<path d="M162 56l9 4-2.500 6-6 -1.500z"/><path d="M176 60.500l1.500 1.500 1.500-1.500"/>
<path d="M192 57H201M196.500 57V66M194.500 66H198.500"/>
<rect x="219.500" y="57" width="3" height="3"/><path d="M226.500 57v3M225 58.500h3"/><circle cx="221" cy="64" r="1.500"/><rect x="225" y="62.500" width="3" height="3"/>
<path d="M244 66q-3-3-2-4l2 1V57q1-2 2 0v2q1-1.500 2 0 1-1 2 .5 1.500-.5 2 1V64q0 3-3 4h-3z"/>
<path d="M268.500 67.500l1.300-3.500a5 5 0 1 1 3 3z"/>
</g>
<rect x="59.700" y="46" width="31" height="31" fill="#2f80e0"/>
<path d="M69 57l8 3.500-3.500 1.200-1.300 3.800z" fill="none" stroke="#dbe9fb" stroke-width=".9"/>
<path d="M83 60.500l1.500 1.500 1.500-1.500" fill="none" stroke="#dbe9fb" stroke-width=".9"/>
<circle cx="279.500" cy="56.500" r="2.500" fill="#e8623a"/>

<circle cx="630" cy="61" r="7.500" fill="none" stroke="#666"/>
<circle cx="630" cy="61" r="3.500" fill="none" stroke="#666"/>
<text x="646" y="64.500" font-size="9.600" fill="#9a9a9a">Innercise App</text>
<text x="708" y="64.500" font-size="9.600" fill="#777">/</text>
<text x="718" y="64.500" font-size="9.600" fill="#d8d8d8">Front End Launch - NeuroGym App (updated)</text>
<path d="M919.500 60.500l1.500 1.500 1.500-1.500" fill="none" stroke="#bbb" stroke-width=".9"/>

<path d="M1339 63v-2a5.500 5.500 0 0 1 11 0v2" fill="none" stroke="#ddd" stroke-width=".9"/>
<rect x="1338.500" y="61.500" width="2.500" height="5" rx="1" fill="none" stroke="#ddd" stroke-width=".8"/><rect x="1348" y="61.500" width="2.500" height="5" rx="1" fill="none" stroke="#ddd" stroke-width=".8"/>
<circle cx="1369" cy="61" r="8" fill="#5aaed6"/>
<circle cx="1369" cy="58.500" r="2.500" fill="#3a444e"/>
<path d="M1364 67q0-5 5-5t5 5q-2.500 2-5 2t-5-2z" fill="#3e4650"/>
<rect x="1386.500" y="51" width="35" height="21" rx="4" fill="#2f80e0"/>
<text x="1404" y="64" font-size="7.500" font-weight="700" fill="#fff" text-anchor="middle">Share</text>
<path d="M1438.500 57.500l6 3.500-6 3.500z" fill="none" stroke="#ddd" stroke-width=".9"/>
<text x="1466" y="64" font-size="7.300" font-weight="700" fill="#ddd">21%</text>
<path d="M1483 60.500l1.500 1.500 1.500-1.500" fill="none" stroke="#ddd" stroke-width=".9"/>
</g>

<!-- left panel -->
<g>
<rect x="26" y="78" width="157" height="726" fill="#2c2c2c"/>
<g stroke="#3b3b3b"><path d="M26 102.500H183M26 177.500H183"/></g>
<text class="b" x="37" y="92.500">Layers</text>
<text x="70" y="92.500" font-size="7.100" fill="#a8a8a8" font-weight="700">Assets</text>
<text x="131" y="92.500" font-size="7.100" fill="#ddd" font-weight="700">Front End</text>
<path d="M167.500 90.500l1.500-1.500 1.500 1.500" fill="none" stroke="#888" stroke-width=".8"/>
<text class="b" x="37" y="118">Pages</text>
<path d="M165.500 112V119M162 115.500H169" stroke="#ccc"/>
<path d="M39 136l1.500 1.500 3-3" fill="none" stroke="#ddd"/>
<text class="l" x="52.500" y="138.500" style="font-weight:700;fill:#e8e8e8;font-size:7.100px">Front End</text>
<text class="l" x="52.500" y="159.500">Back End</text>

<g class="ip">
<path d="M38 189.500h7v4.500l-2.500 2.500h-4.500zM38 251.500h7v4.500l-2.500 2.500h-4.500zM38 272.500h7v4.500l-2.500 2.500h-4.500zM38 293h7v4.500l-2.500 2.500h-4.500zM38 313.500h7v4.500l-2.500 2.500h-4.500zM38 334.500h7v4.500l-2.500 2.500h-4.500zM38 355h7v4.500l-2.500 2.500h-4.500zM38 375.500h7v4.500l-2.500 2.500h-4.500zM38 396.500h7v4.500l-2.500 2.500h-4.500zM38 417.500h7v4.500l-2.500 2.500h-4.500zM38 438h7v4.500l-2.500 2.500h-4.500zM38 458.500h7v4.500l-2.500 2.500h-4.500zM38 500h7v4.500l-2.500 2.500h-4.500zM38 520.500h7v4.500l-2.500 2.500h-4.500zM38 769h7v4.500l-2.500 2.500h-4.500zM38 789.500h7v4.500l-2.500 2.500h-4.500z"/>
</g>
<g class="ic">
<text x="39" y="216.500">T</text><text x="39" y="237">T</text><text x="39" y="547.500">T</text><text x="39" y="568">T</text><text x="39" y="589">T</text><text x="39" y="609.500">T</text><text x="39" y="630">T</text><text x="39" y="651">T</text><text x="39" y="671.500">T</text><text x="39" y="692">T</text><text x="39" y="713">T</text>
<text x="38" y="485.500" style="fill:#ddd">#</text><text x="38" y="733.500" style="fill:#ddd">#</text><text x="38" y="754.500" style="fill:#ddd">#</text>
</g>
<text class="p" x="52.500" y="195.500">We analyzed all competitor's appli...</text>
<text class="l" x="52.500" y="216.500">Onboarding</text>
<text class="l" x="52.500" y="237">Welcome Screen</text>
<text class="p" x="52.500" y="257.500">Offline media + the ability to delet...</text>
<text class="p" x="52.500" y="278.500">Images that fit this app consistency</text>
<text class="p" x="52.500" y="299">what images to use</text>
<text class="p" x="52.500" y="319.500">Future Feature: create a variation f...</text>
<text class="p" x="52.500" y="340.500">to check length of titles</text>
<text class="p" x="52.500" y="361">Add Program progress bar / level</text>
<text class="p" x="52.500" y="381.500">player is missing - 15 seconds + 1...</text>
<text class="p" x="52.500" y="402.500">Julai redesign this with ONLY ONE...</text>
<text class="p" x="52.500" y="423.500">Vision affirmation during video/audi...</text>
<text class="p" x="52.500" y="444">+ parameters in link + ability to pa...</text>
<text class="p" x="52.500" y="464.500">onboarding only with first usage + ...</text>
<text class="b" x="52.500" y="485.500">Sign up</text>
<text class="p" x="52.500" y="506">Stats: Completed Programs  Numb...</text>
<text class="p" x="52.500" y="526.500">filtering / sorting 8-10 categories ...</text>
<text class="l" x="52.500" y="547.500">NEUROGYM APP FLOW</text>
<text class="l" x="52.500" y="568">HOME SCREEN</text>
<text class="l" x="52.500" y="589">SUBSCRIPTION INFO</text>
<text class="l" x="52.500" y="609.500">Question</text>
<text class="l" x="52.500" y="630">WELCOME</text>
<text class="l" x="52.500" y="651">WELCOME</text>
<text class="l" x="52.500" y="671.500">SPLASH SCREEN</text>
<text class="l" x="52.500" y="692">LOG IN</text>
<text class="l" x="52.500" y="713">SIGN UP</text>
<text class="b" x="52.500" y="733.500">Splash screen</text>
<text class="b" x="52.500" y="754.500">Log in</text>
<text class="p" x="52.500" y="775">Features description</text>
<text class="p" x="52.500" y="795.500">Shape with text</text>
<rect x="153" y="792" width="5" height="4" fill="#ccc"/><path d="M154 792v-1.500a1.500 1.500 0 0 1 3 0V792" fill="none" stroke="#ccc" stroke-width=".7"/>
</g>

<!-- right panel -->
<g>
<rect x="1341" y="78" width="156" height="726" fill="#2c2c2c"/>
<g stroke="#3b3b3b"><path d="M1341 102.500H1497M1341 155.500H1497M1341 186.500H1497"/></g>
<text class="b" x="1352" y="92.500">Design</text>
<text x="1386" y="92.500" font-size="7.100" fill="#a8a8a8" font-weight="700">Prototype</text>
<text x="1430" y="92.500" font-size="7.100" fill="#a8a8a8" font-weight="700">Inspect</text>
<text class="b" x="1352" y="121">Background</text>
<rect x="1352" y="134" width="10.500" height="10.500" fill="#e5e5e5"/>
<text class="l" x="1368" y="142" style="fill:#e4e4e4;font-size:7.100px">E5E5E5</text>
<text class="l" x="1415" y="142" style="fill:#e4e4e4;font-size:7.100px">100%</text>
<path d="M1477.500 139.500q4-4 8 0q-4 4-8 0z" fill="none" stroke="#ddd" stroke-width=".8"/><circle cx="1481.500" cy="139.500" r="1.200" fill="#ddd"/>
<text x="1352" y="173.500" font-size="7.100" font-weight="700" fill="#a8a8a8">Export</text>
<path d="M1481 167V175M1477 171H1485" stroke="#888"/>
<circle cx="1470" cy="776" r="11.500" fill="#222"/>
<text x="1470" y="780" text-anchor="middle" font-size="10" fill="#ccc">?</text>
</g>
</g>
</svg>
</body>
</html>
